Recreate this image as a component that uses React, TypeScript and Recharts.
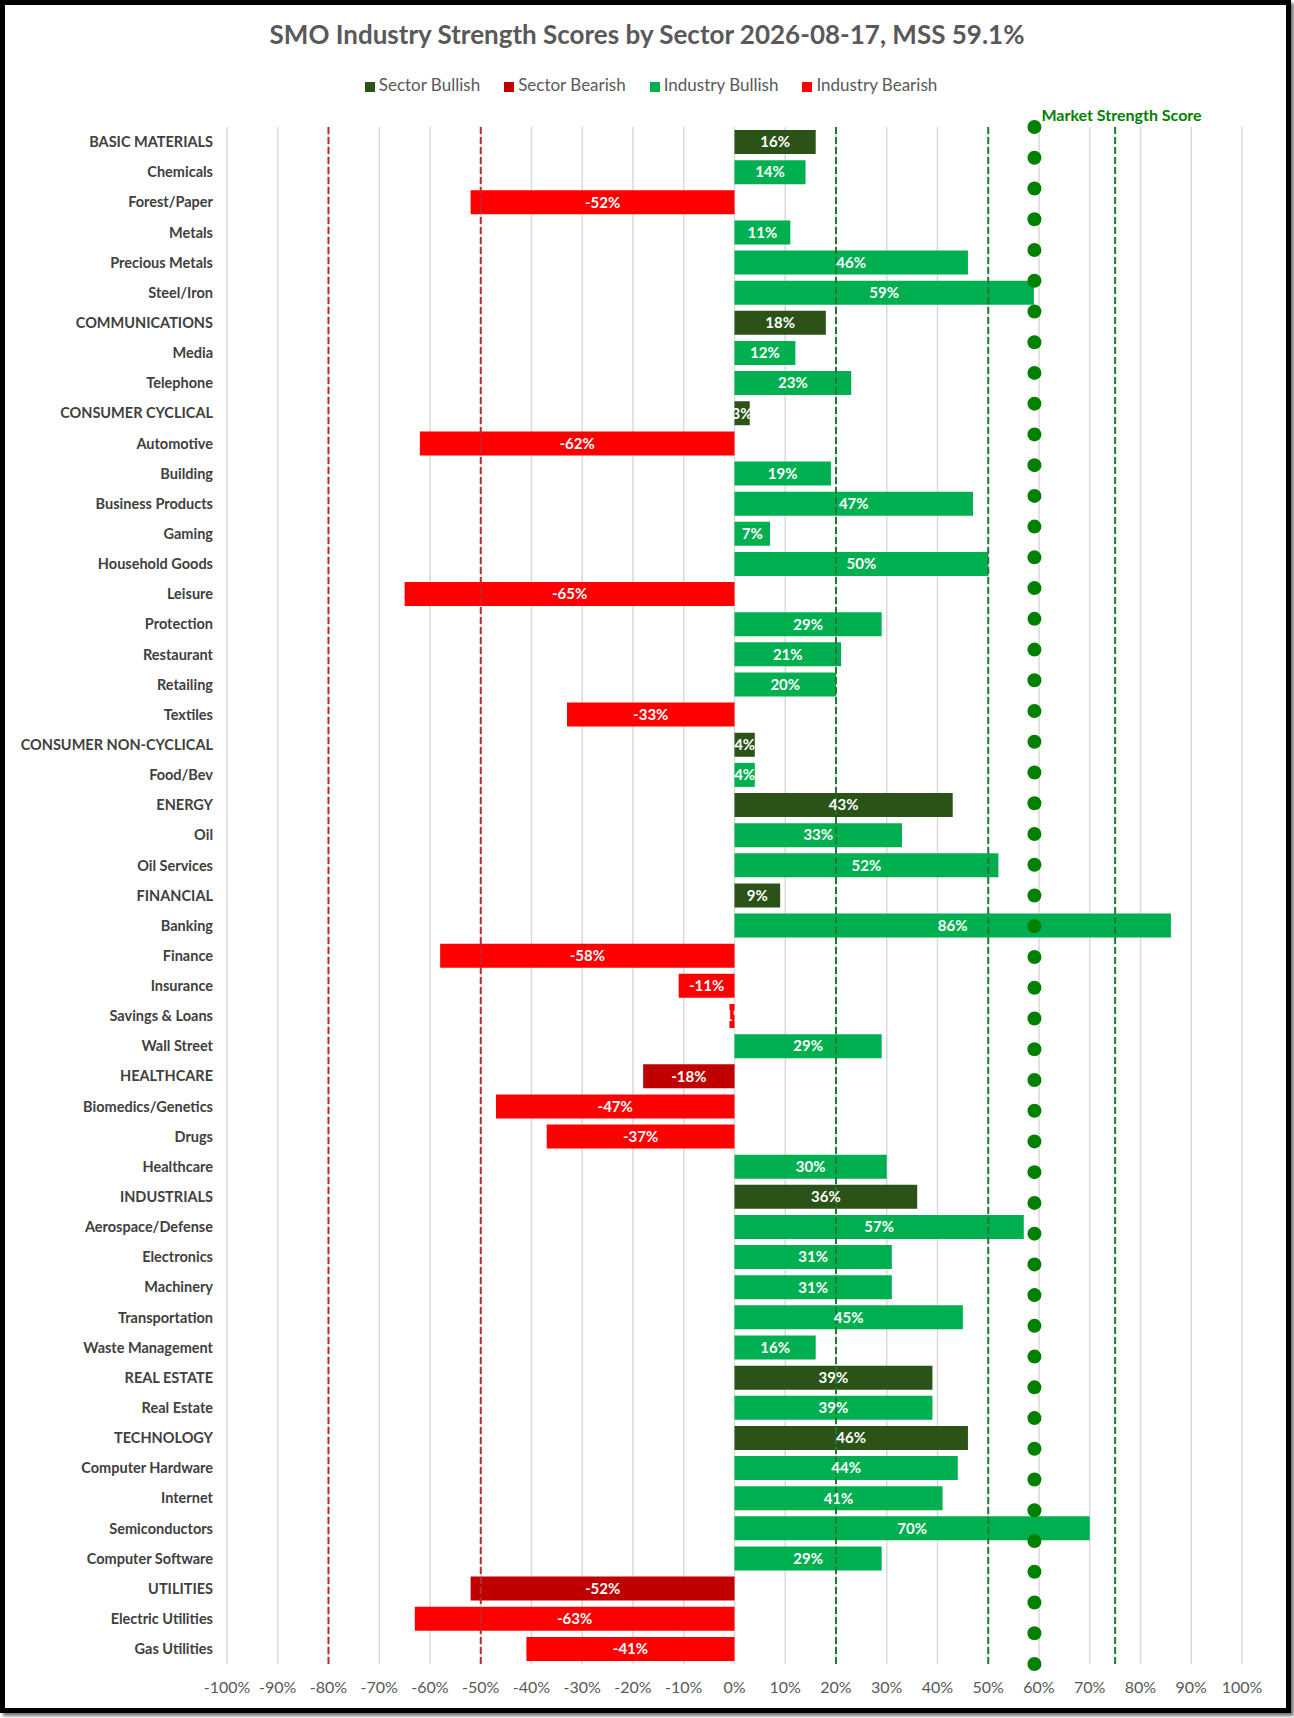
import {
  ComposedChart,
  Bar,
  XAxis,
  YAxis,
  CartesianGrid,
  ReferenceLine,
  ReferenceDot,
  Legend,
  LabelList,
} from 'recharts'

const categories = [
  'BASIC MATERIALS', 'Chemicals', 'Forest/Paper', 'Metals', 'Precious Metals', 'Steel/Iron',
  'COMMUNICATIONS', 'Media', 'Telephone',
  'CONSUMER CYCLICAL', 'Automotive', 'Building', 'Business Products', 'Gaming', 'Household Goods',
  'Leisure', 'Protection', 'Restaurant', 'Retailing', 'Textiles',
  'CONSUMER NON-CYCLICAL', 'Food/Bev',
  'ENERGY', 'Oil', 'Oil Services',
  'FINANCIAL', 'Banking', 'Finance', 'Insurance', 'Savings & Loans', 'Wall Street',
  'HEALTHCARE', 'Biomedics/Genetics', 'Drugs', 'Healthcare',
  'INDUSTRIALS', 'Aerospace/Defense', 'Electronics', 'Machinery', 'Transportation', 'Waste Management',
  'REAL ESTATE', 'Real Estate',
  'TECHNOLOGY', 'Computer Hardware', 'Internet', 'Semiconductors', 'Computer Software',
  'UTILITIES', 'Electric Utilities', 'Gas Utilities',
]

const scores = [
  16, 14, -52, 11, 46, 59,
  18, 12, 23,
  3, -62, 19, 47, 7, 50, -65, 29, 21, 20, -33,
  4, 4,
  43, 33, 52,
  9, 86, -58, -11, -1, 29,
  -18, -47, -37, 30,
  36, 57, 31, 31, 45, 16,
  39, 39,
  46, 44, 41, 70, 29,
  -52, -63, -41,
]

const sectors = [
  'BASIC MATERIALS', 'COMMUNICATIONS', 'CONSUMER CYCLICAL', 'CONSUMER NON-CYCLICAL', 'ENERGY',
  'FINANCIAL', 'HEALTHCARE', 'INDUSTRIALS', 'REAL ESTATE', 'TECHNOLOGY', 'UTILITIES',
]

const mss = 59.1
// slots of the market strength score markers (secondary axis)
const mssSlots = [
  0, 1, 2, 3, 4, 5, 6, 7, 8, 9, 10, 11, 12, 13, 14, 15, 16, 17, 18, 19, 20, 21, 22, 23, 24, 25, 26,
  27, 28, 29, 30, 31, 32, 33, 34, 35, 36, 37, 38, 39, 40, 41, 42, 43, 44, 45, 46, 47, 48, 49, 50,
  51, 52, 53,
]

const xTicks = [-100, -90, -80, -70, -60, -50, -40, -30, -20, -10, 0, 10, 20, 30, 40, 50, 60, 70, 80, 90, 100]
const bearLines = [-80, -50]
const bullLines = [20, 50, 75]

const rows = categories.map((name, i) => {
  const v = scores[i]
  const sector = sectors.includes(name)
  return {
    name,
    sectorBull: sector && v >= 0 ? v : null,
    sectorBear: sector && v < 0 ? v : null,
    industryBull: !sector && v >= 0 ? v : null,
    industryBear: !sector && v < 0 ? v : null,
  }
})

const series = [
  { key: 'sectorBull', name: 'Sector Bullish', color: '#2b5217' },
  { key: 'sectorBear', name: 'Sector Bearish', color: '#c00000' },
  { key: 'industryBull', name: 'Industry Bullish', color: '#00b050' },
  { key: 'industryBear', name: 'Industry Bearish', color: '#ff0000' },
]
const legendOrder = series.map((s) => s.name)

const pct = (v: any) => (v === null || v === undefined ? '' : `${v}%`)

function MssLabel(props: any) {
  const vb = props.viewBox || { x: 1028, y: 121, width: 14, height: 14 }
  return (
    <text
      x={vb.x + vb.width}
      y={vb.y + 1}
      fill="#008000"
      fontSize={16}
      fontWeight={700}
      fontFamily="Lato, sans-serif"
    >
      Market Strength Score
    </text>
  )
}

export default function App() {
  return (
    <div
      style={{
        position: 'absolute',
        left: 0,
        top: 0,
        width: 1294,
        height: 1718,
        background: '#fff',
        fontFamily: 'Lato, sans-serif',
      }}
    >
      <div
        style={{
          position: 'absolute',
          left: 0,
          top: 0,
          width: 1281,
          height: 1703,
          border: '5px solid #000',
          boxShadow: '3px 3px 3px #777',
        }}
      />
      <div
        style={{
          position: 'absolute',
          top: 18,
          left: 0,
          width: 1294,
          textAlign: 'center',
          fontSize: 26,
          fontWeight: 700,
          color: '#595959',
        }}
      >
        SMO Industry Strength Scores by Sector 2026-08-17, MSS 59.1%
      </div>
      <div style={{ position: 'absolute', left: 0, top: 0 }}>
        <ComposedChart
          width={1294}
          height={1718}
          data={rows}
          layout="vertical"
          stackOffset="sign"
          barCategoryGap="10%"
          margin={{ top: 106, right: 52, bottom: 24, left: 0 }}
        >
          <CartesianGrid horizontal={false} stroke="#d9d9d9" strokeWidth={1.5} />
          <XAxis
            type="number"
            domain={[-100, 100]}
            ticks={xTicks}
            interval={0}
            tickFormatter={(v) => `${v}%`}
            axisLine={false}
            tickLine={false}
            tickSize={0}
            tickMargin={18}
            tick={{ fill: '#595959', fontSize: 16 }}
          />
          <YAxis
            type="category"
            dataKey="name"
            width={227}
            interval={0}
            axisLine={false}
            tickLine={false}
            tickSize={0}
            tickMargin={14}
            tick={{ fill: '#404040', fontSize: 14.5, fontWeight: 700 }}
          />
          <YAxis yAxisId="dots" type="number" domain={[-0.1, 53.1]} hide />
          <Legend
            verticalAlign="top"
            align="center"
            iconType="square"
            iconSize={10}
            itemSorter={(item: any) => legendOrder.indexOf(item.value)}
            wrapperStyle={{ top: 74, left: 16, width: 1294, fontSize: 17 }}
            formatter={(value) => (
              <span style={{ color: '#595959', marginRight: 14 }}>{value}</span>
            )}
          />
          {series.map((s) => (
            <Bar
              key={s.key}
              dataKey={s.key}
              name={s.name}
              stackId="score"
              fill={s.color}
              isAnimationActive={false}
            >
              <LabelList
                dataKey={s.key}
                position="center"
                formatter={pct}
                fill="#fff"
                fontSize={15}
                fontWeight={700}
              />
            </Bar>
          ))}
          {bearLines.map((x) => (
            <ReferenceLine key={x} x={x} stroke="#c0282d" strokeWidth={2} strokeDasharray="7 3" />
          ))}
          {bullLines.map((x) => (
            <ReferenceLine key={x} x={x} stroke="#1f7a34" strokeWidth={2} strokeDasharray="7 3" />
          ))}
          {mssSlots.map((slot) => (
            <ReferenceDot
              key={slot}
              x={mss}
              y={slot}
              yAxisId="dots"
              r={7}
              fill="#008000"
              stroke="none"
              label={slot === 0 ? (p: any) => <MssLabel {...p} /> : undefined}
            />
          ))}
        </ComposedChart>
      </div>
    </div>
  )
}
